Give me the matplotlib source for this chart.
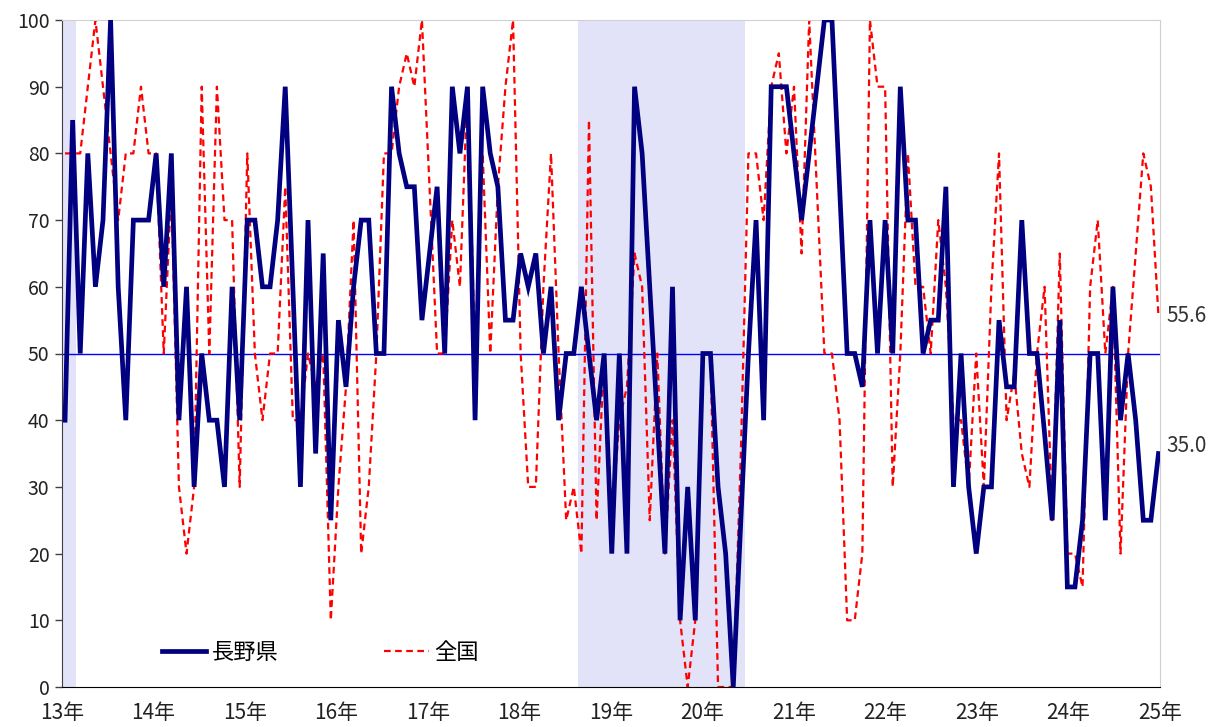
import numpy as np
import matplotlib
matplotlib.use("Agg")
import matplotlib.pyplot as plt
import matplotlib.transforms as mtransforms

plt.rcParams['font.family'] = ['Noto Sans CJK JP', 'DejaVu Sans']

# 月次データ（2013年1月～2025年1月）
nagano = [
    40, 85, 50, 80, 60, 70, 100, 60, 40, 70, 70, 70,
    80, 60, 80, 40, 60, 30, 50, 40, 40, 30, 60, 40,
    70, 70, 60, 60, 70, 90, 60, 30, 70, 35, 65, 25,
    55, 45, 60, 70, 70, 50, 50, 90, 80, 75, 75, 55,
    65, 75, 50, 90, 80, 90, 40, 90, 80, 75, 55, 55,
    65, 60, 65, 50, 60, 40, 50, 50, 60, 50, 40, 50,
    20, 50, 20, 90, 80, 60, 40, 20, 60, 10, 30, 10,
    50, 50, 30, 20, 0, 25, 50, 70, 40, 90, 90, 90,
    80, 70, 80, 90, 100, 100, 75, 50, 50, 45, 70, 50,
    70, 50, 90, 70, 70, 50, 55, 55, 75, 30, 50, 30,
    20, 30, 30, 55, 45, 45, 70, 50, 50, 38, 25, 55,
    15, 15, 25, 50, 50, 25, 60, 40, 50, 40, 25, 25,
    35,
]
zenkoku = [
    80, 80, 80, 90, 100, 90, 80, 70, 80, 80, 90, 80,
    80, 50, 75, 30, 20, 30, 90, 50, 90, 70, 70, 30,
    80, 50, 40, 50, 50, 75, 40, 40, 50, 45, 50, 10,
    30, 45, 70, 20, 30, 50, 80, 80, 90, 95, 90, 100,
    75, 50, 50, 70, 60, 90, 50, 80, 50, 75, 90, 100,
    50, 30, 30, 60, 80, 50, 25, 30, 20, 85, 25, 50,
    25, 40, 45, 65, 60, 25, 50, 20, 40, 10, 0, 10,
    50, 50, 0, 0, 0, 35, 80, 80, 70, 90, 95, 80,
    90, 65, 100, 75, 50, 50, 40, 10, 10, 20, 100, 90,
    90, 30, 50, 80, 60, 60, 50, 70, 60, 40, 40, 30,
    50, 30, 60, 80, 40, 47, 35, 30, 50, 60, 25, 65,
    20, 20, 15, 60, 70, 50, 60, 20, 50, 65, 80, 75,
    55.6,
]
year_labels = [f"{y}年" for y in range(13, 26)]
# 景気後退期（シャドー）、月番号（2013年1月=0）
shade_periods = [(-1.0, 1.45), (67.5, 89.5)]

months = np.arange(len(nagano))
x_min, x_max = -0.4, 144.2

fig = plt.figure(figsize=(12.15, 7.27), dpi=100)
ax = fig.add_axes([62 / 1215, 1 - 687 / 727, 1098 / 1215, 667 / 727])

for s, e in shade_periods:
    ax.axvspan(s, e, facecolor='#e2e2f8', edgecolor='none', zorder=0)

ax.axhline(50, color='#0000ff', lw=1.0, zorder=1)

ax.plot(months, zenkoku, color='#ff0000', lw=1.6, linestyle=(0, (3, 2)),
        label='全国', zorder=2)
ax.plot(months, nagano, color='#000080', lw=3.4, label='長野県', zorder=3,
        solid_joinstyle='miter')

ax.set_xlim(x_min, x_max)
ax.set_ylim(0, 100)
ax.set_yticks(range(0, 101, 10))
ax.set_xticks(np.linspace(x_min, x_max, len(year_labels)))
ax.set_xticklabels(year_labels)
ax.tick_params(axis='x', length=0, pad=11, labelsize=15, labelcolor='#222222')
ax.tick_params(axis='y', length=5, width=1, direction='out', pad=4, labelsize=14,
               color='#404040', labelcolor='#222222')

for side in ['top', 'right']:
    ax.spines[side].set_color('#d0d0d0')
ax.spines['left'].set_color('#404040')
ax.spines['bottom'].set_color('black')

# 最新値のラベル
trans = mtransforms.blended_transform_factory(ax.transAxes, ax.transData)
ax.text(1.006, zenkoku[-1], f"{zenkoku[-1]:.1f}", transform=trans,
        va='center', ha='left', fontsize=15, color='#333333')
ax.text(1.006, nagano[-1] + 1.2, f"{nagano[-1]:.1f}", transform=trans,
        va='center', ha='left', fontsize=15, color='#333333')

handles, labels = ax.get_legend_handles_labels()
ax.legend(handles[::-1], labels[::-1], loc='center left',
          bbox_to_anchor=(0.091, 0.052), ncol=2, frameon=False, fontsize=16,
          handlelength=2.0, handletextpad=0.25, columnspacing=4.75,
          borderpad=0, borderaxespad=0)

plt.savefig("out.png", dpi=100)
